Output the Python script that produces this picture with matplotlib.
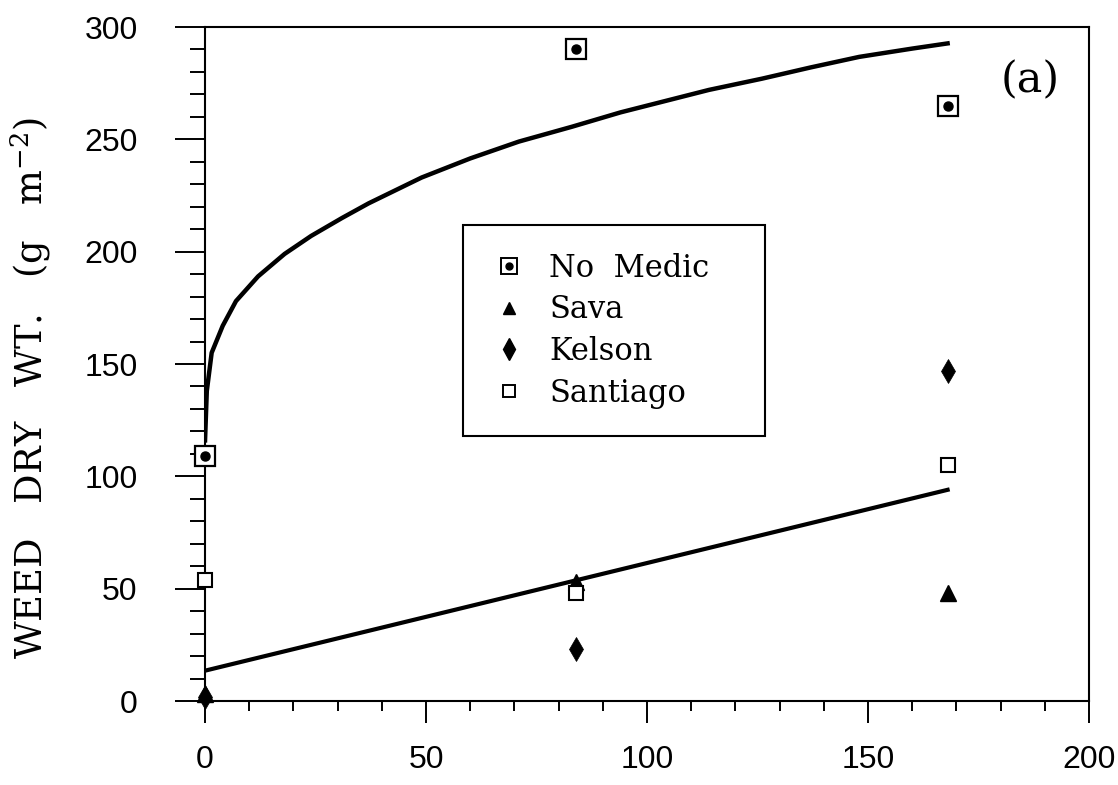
#!/usr/bin/env python3
# -*- coding: utf-8 -*-

"""
Weed dry weight against N rate for the medic treatments, panel (a).
"""

import matplotlib
matplotlib.use("Agg")
from matplotlib import pyplot as plt
from matplotlib.lines import Line2D
from matplotlib.ticker import MultipleLocator

# values
n_rate = [0, 84, 168]
no_medic = [109, 290, 265]
sava = [3, 53, 48]
kelson = [2, 23, 147]
santiago = [54, 48, 105]

# fitted curve for the no medic treatment (traced)
fit_x = [0, 0.4, 1.5, 4, 7, 12, 18, 24, 31, 37, 49, 60, 71, 83, 94, 105,
         114, 126, 137, 148, 160, 168]
fit_y = [116, 138, 155, 167, 178, 189, 199, 207, 215, 221.5, 233, 241.5, 249,
         255.6, 262, 267.5, 272, 277, 282, 286.7, 290.4, 292.7]

# fitted line for the medic treatments
line_x = [0, 168]
line_y = [13.5, 94]

plt.rcParams["mathtext.fontset"] = "dejavuserif"
plt.rcParams["font.family"] = ["Liberation Sans", "DejaVu Sans"]

fig = plt.figure(figsize=(11.18, 7.85), dpi=100)
ax = fig.add_axes([0.1834, 0.107, 0.7907, 0.8586])

ax.plot(fit_x, fit_y, "k-", lw=3.2, zorder=2)
ax.plot(line_x, line_y, "k-", lw=3.0, zorder=2)

# no medic: open square with a dot in the middle
ax.plot(n_rate, no_medic, ls="none", marker="s", ms=14, mfc="white",
        mec="k", mew=1.6, zorder=4, clip_on=False)
ax.plot(n_rate, no_medic, ls="none", marker="o", ms=6.5, mfc="k", mec="k",
        zorder=5, clip_on=False)
ax.plot(n_rate, sava, ls="none", marker="^", ms=11, mfc="k", mec="k",
        zorder=4, clip_on=False)
ax.plot(n_rate, santiago, ls="none", marker="s", ms=9.5, mfc="white",
        mec="k", mew=1.5, zorder=4, clip_on=False)
ax.plot(n_rate, kelson, ls="none", marker="d", ms=12, mfc="k", mec="k",
        mew=0.5, zorder=5, clip_on=False)

ax.set_xlim(0, 200)
ax.set_ylim(0, 300)
ax.xaxis.set_major_locator(MultipleLocator(50))
ax.xaxis.set_minor_locator(MultipleLocator(10))
ax.yaxis.set_major_locator(MultipleLocator(50))
ax.yaxis.set_minor_locator(MultipleLocator(10))

ax.tick_params(axis="x", which="major", direction="out", length=16,
               width=1.4, pad=16, labelsize=23)
ax.tick_params(axis="x", which="minor", direction="out", length=7, width=1.4)
ax.tick_params(axis="y", which="major", direction="out", length=21.5,
               width=1.4, pad=27, labelsize=23)
ax.tick_params(axis="y", which="minor", direction="out", length=10.8,
               width=1.4)

for sp in ax.spines.values():
    sp.set_linewidth(1.5)

ax.set_ylabel(r"WEED   DRY   WT.   (g   m$^{-2}$)", family="DejaVu Serif",
              fontsize=26.5)
ax.yaxis.set_label_coords(-0.172, 0.464)

ax.text(0.933, 0.921, "(a)", transform=ax.transAxes, family="DejaVu Serif",
        fontsize=31, ha="center", va="center")

# legend
h_nm = (Line2D([], [], ls="none", marker="s", ms=11, mfc="white", mec="k",
               mew=1.4),
        Line2D([], [], ls="none", marker="o", ms=5, mfc="k", mec="k"))
h_sv = Line2D([], [], ls="none", marker="^", ms=9, mfc="k", mec="k")
h_kl = Line2D([], [], ls="none", marker="d", ms=11, mfc="k", mec="k")
h_st = Line2D([], [], ls="none", marker="s", ms=8.5, mfc="white", mec="k",
              mew=1.4)
leg = ax.legend([h_nm, h_sv, h_kl, h_st],
                ["No  Medic", "Sava", "Kelson", "Santiago"],
                loc="upper left", bbox_to_anchor=(0.292, 0.706, 0.341, 0.0),
                mode="expand", borderaxespad=0, fancybox=False,
                edgecolor="k", framealpha=1, handlelength=1.2,
                handletextpad=0.72, labelspacing=0.35, borderpad=0.9,
                prop={"family": "DejaVu Serif", "size": 22})
leg.get_frame().set_linewidth(1.5)

fig.savefig("out.png", dpi=100)
plt.close()
